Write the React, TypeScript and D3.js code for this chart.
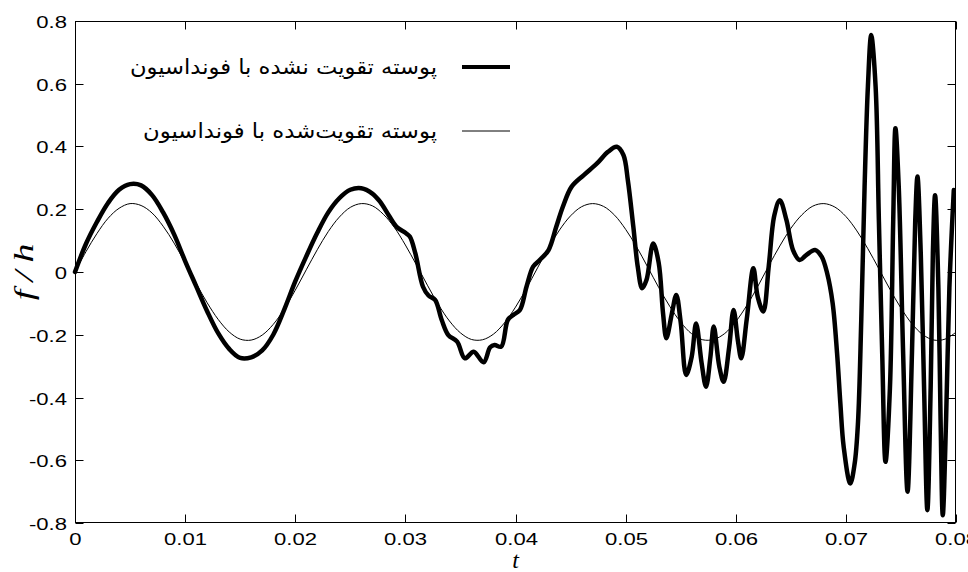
import React, { useEffect, useRef } from "react";
import * as d3 from "d3";

// thin curve: reinforced shell (sampled every 0.001 s)
const thinTime = [
  0, 0.001, 0.002, 0.003, 0.004, 0.005, 0.006, 0.007, 0.008, 0.009,
  0.01, 0.011, 0.012, 0.013, 0.014, 0.015, 0.016, 0.017, 0.018, 0.019,
  0.02, 0.021, 0.022, 0.023, 0.024, 0.025, 0.026, 0.027, 0.028, 0.029,
  0.03, 0.031, 0.032, 0.033, 0.034, 0.035, 0.036, 0.037, 0.038, 0.039,
  0.04, 0.041, 0.042, 0.043, 0.044, 0.045, 0.046, 0.047, 0.048, 0.049,
  0.05, 0.051, 0.052, 0.053, 0.054, 0.055, 0.056, 0.057, 0.058, 0.059,
  0.06, 0.061, 0.062, 0.063, 0.064, 0.065, 0.066, 0.067, 0.068, 0.069,
  0.07, 0.071, 0.072, 0.073, 0.074, 0.075, 0.076, 0.077, 0.078, 0.079, 0.08,
];
const thinValue = [
  0, 0.065, 0.123, 0.171, 0.203, 0.218, 0.212, 0.188, 0.146, 0.092,
  0.029, -0.036, -0.098, -0.151, -0.191, -0.214, -0.217, -0.201, -0.167, -0.118,
  -0.058, 0.007, 0.071, 0.129, 0.175, 0.206, 0.218, 0.211, 0.184, 0.142,
  0.086, 0.023, -0.042, -0.104, -0.156, -0.194, -0.215, -0.216, -0.198, -0.162,
  -0.112, -0.052, 0.013, 0.077, 0.134, 0.179, 0.208, 0.218, 0.209, 0.181,
  0.136, 0.08, 0.016, -0.049, -0.109, -0.16, -0.197, -0.216, -0.215, -0.196,
  -0.158, -0.107, -0.046, 0.02, 0.083, 0.139, 0.182, 0.21, 0.218, 0.207,
  0.177, 0.131, 0.074, 0.01, -0.055, -0.115, -0.165, -0.2, -0.217, -0.214, -0.192,
];

// thick curve: unreinforced shell
const thickTime = [
  0, 0.001, 0.002, 0.003, 0.004, 0.005, 0.006, 0.007, 0.008, 0.009,
  0.01, 0.011, 0.012, 0.013, 0.014, 0.015, 0.016, 0.017, 0.018, 0.019,
  0.02, 0.021, 0.022, 0.023, 0.024, 0.025, 0.026, 0.027, 0.0277, 0.0285,
  0.0292, 0.03, 0.0304, 0.0309, 0.0316, 0.0321, 0.0327, 0.0333, 0.0339, 0.0347,
  0.0354, 0.0362, 0.0371, 0.0377, 0.0381, 0.0387, 0.0393, 0.0398, 0.0404, 0.041,
  0.0416, 0.0422, 0.043, 0.0437, 0.0443, 0.0451, 0.0462, 0.0474, 0.0484, 0.0492,
  0.0498, 0.0502, 0.0507, 0.0511, 0.0515, 0.0519, 0.0525, 0.053, 0.0534, 0.0537,
  0.0542, 0.0546, 0.055, 0.0555, 0.056, 0.0564, 0.0569, 0.0573, 0.0577, 0.058,
  0.0585, 0.0589, 0.0594, 0.0598, 0.0602, 0.0605, 0.061, 0.0616, 0.062, 0.0625,
  0.063, 0.0635, 0.064, 0.0646, 0.0652, 0.0658, 0.0664, 0.0672, 0.0678, 0.0683,
  0.0688, 0.0692, 0.0695, 0.0698, 0.0704, 0.0708, 0.0711, 0.0714, 0.0717, 0.072,
  0.0723, 0.0727, 0.073, 0.0733, 0.0736, 0.074, 0.0743, 0.0745, 0.0748, 0.0752,
  0.0756, 0.076, 0.0763, 0.0765, 0.0768, 0.0771, 0.0774, 0.0777, 0.0779, 0.0781,
  0.0784, 0.0786, 0.0788, 0.0791, 0.0794, 0.0798,
];
const thickValue = [
  0, 0.09, 0.16, 0.22, 0.262, 0.28, 0.276, 0.245, 0.19, 0.12,
  0.035, -0.045, -0.125, -0.195, -0.245, -0.274, -0.272, -0.25, -0.2, -0.12,
  -0.03, 0.05, 0.125, 0.19, 0.235, 0.262, 0.267, 0.25, 0.224, 0.18,
  0.144, 0.125, 0.113, 0.06, -0.047, -0.075, -0.089, -0.153, -0.201, -0.222,
  -0.275, -0.254, -0.288, -0.24, -0.233, -0.238, -0.153, -0.137, -0.121, -0.047,
  0.017, 0.038, 0.07, 0.144, 0.208, 0.272, 0.309, 0.346, 0.383, 0.399,
  0.373, 0.293, 0.144, 0.017, -0.052, -0.025, 0.091, 0.03, -0.132, -0.211,
  -0.132, -0.073, -0.16, -0.328, -0.27, -0.164, -0.29, -0.366, -0.27, -0.174,
  -0.3, -0.35, -0.24, -0.121, -0.22, -0.275, -0.15, 0.012, -0.08, -0.126,
  0.02, 0.18, 0.229, 0.166, 0.07, 0.038, 0.054, 0.07, 0.049, -0.004,
  -0.1, -0.259, -0.419, -0.557, -0.674, -0.61, -0.48, -0.15, 0.272, 0.591,
  0.755, 0.591, 0.16, -0.26, -0.605, -0.37, 0.166, 0.458, 0.272, -0.26,
  -0.7, -0.26, 0.166, 0.304, 0.06, -0.367, -0.759, -0.367, 0.06, 0.245,
  -0.05, -0.47, -0.775, -0.47, -0.05, 0.261,
];

const xTicks = [0, 0.01, 0.02, 0.03, 0.04, 0.05, 0.06, 0.07, 0.08];
const xTickLabels = ["0", "0.01", "0.02", "0.03", "0.04", "0.05", "0.06", "0.07", "0.08"];
const yTicks = [-0.8, -0.6, -0.4, -0.2, 0, 0.2, 0.4, 0.6, 0.8];
const yTickLabels = ["-0.8", "-0.6", "-0.4", "-0.2", "0", "0.2", "0.4", "0.6", "0.8"];
const legendLabels = ["پوسته تقویت نشده با فونداسیون", "پوسته تقویت‌شده با فونداسیون"];

const W = 968, H = 572;
const margin = { top: 21, right: 12, bottom: 49, left: 75 };

export default function App() {
  const ref = useRef<SVGSVGElement>(null);

  useEffect(() => {
    document.body.style.margin = "0";
    const svg = d3.select(ref.current);
    svg.selectAll("*").remove();

    const x = d3.scaleLinear().domain([0, 0.08]).range([margin.left, W - margin.right]);
    const y = d3.scaleLinear().domain([-0.8, 0.8]).range([H - margin.bottom, margin.top]);
    const x0 = margin.left + 0.5, x1 = W - margin.right - 0.5;
    const y0 = margin.top + 0.5, y1 = H - margin.bottom - 0.5;
    const tickLen = 8;
    const sx = 1.3; // figure text looks stretched sideways

    // box
    svg.append("rect")
      .attr("x", x0).attr("y", y0)
      .attr("width", x1 - x0).attr("height", y1 - y0)
      .attr("fill", "none").attr("stroke", "#000").attr("stroke-width", 1);

    const g = svg.append("g");

    // x ticks (inward, bottom and top)
    xTicks.forEach((v, i) => {
      const px = Math.round(x(v)) + 0.5;
      g.append("line").attr("x1", px).attr("x2", px).attr("y1", y1).attr("y2", y1 - tickLen).attr("stroke", "#000");
      g.append("line").attr("x1", px).attr("x2", px).attr("y1", y0).attr("y2", y0 + tickLen).attr("stroke", "#000");
      g.append("text")
        .attr("transform", `translate(${px},545) scale(${sx},1)`)
        .attr("text-anchor", "middle")
        .attr("font-family", "Liberation Sans, Arial, sans-serif")
        .attr("font-size", 17)
        .text(xTickLabels[i]);
    });

    // y ticks (inward, left and right)
    yTicks.forEach((v, i) => {
      const py = Math.round(y(v)) + 0.5;
      g.append("line").attr("x1", x0).attr("x2", x0 + tickLen).attr("y1", py).attr("y2", py).attr("stroke", "#000");
      g.append("line").attr("x1", x1).attr("x2", x1 - tickLen).attr("y1", py).attr("y2", py).attr("stroke", "#000");
      g.append("text")
        .attr("transform", `translate(67,${py + 6}) scale(${sx},1)`)
        .attr("text-anchor", "end")
        .attr("font-family", "Liberation Sans, Arial, sans-serif")
        .attr("font-size", 17)
        .text(yTickLabels[i]);
    });

    // axis titles
    svg.append("text")
      .attr("x", (margin.left + W - margin.right) / 2).attr("y", 568)
      .attr("text-anchor", "middle")
      .attr("font-family", "Liberation Serif, serif")
      .attr("font-style", "italic")
      .attr("font-size", 24)
      .text("t");
    svg.append("text")
      .attr("transform", `translate(33,272) rotate(-90) scale(1.35,1)`)
      .attr("text-anchor", "middle")
      .attr("font-family", "Liberation Serif, serif")
      .attr("font-style", "italic")
      .attr("font-size", 28)
      .attr("textLength", 42)
      .attr("lengthAdjust", "spacing")
      .text("f/h");

    const line = d3.line<[number, number]>()
      .x(d => x(d[0]))
      .y(d => y(d[1]))
      .curve(d3.curveCatmullRom.alpha(0.5));

    const thin: [number, number][] = thinTime.map((t, i) => [t, thinValue[i]]);
    const thick: [number, number][] = thickTime.map((t, i) => [t, thickValue[i]]);

    svg.append("path").attr("d", line(thin))
      .attr("fill", "none").attr("stroke", "#000").attr("stroke-width", 1);
    svg.append("path").attr("d", line(thick))
      .attr("fill", "none").attr("stroke", "#000").attr("stroke-width", 4.5)
      .attr("stroke-linejoin", "round").attr("stroke-linecap", "round");

    // legend
    const leg = [
      { y: 67, w: 4, left: 130, len: 307 },
      { y: 131, w: 1, left: 143, len: 294 },
    ];
    leg.forEach((l, i) => {
      svg.append("line").attr("x1", 462).attr("x2", 510).attr("y1", l.y).attr("y2", l.y)
        .attr("stroke", "#000").attr("stroke-width", l.w);
      svg.append("text")
        .attr("x", l.left).attr("y", l.y + 7)
        .attr("font-family", "DejaVu Sans, sans-serif")
        .attr("font-size", 21)
        .attr("textLength", l.len)
        .attr("lengthAdjust", "spacingAndGlyphs")
        .text(legendLabels[i]);
    });
  }, []);

  return <svg ref={ref} width={W} height={H} style={{ display: "block", background: "#fff" }} />;
}
